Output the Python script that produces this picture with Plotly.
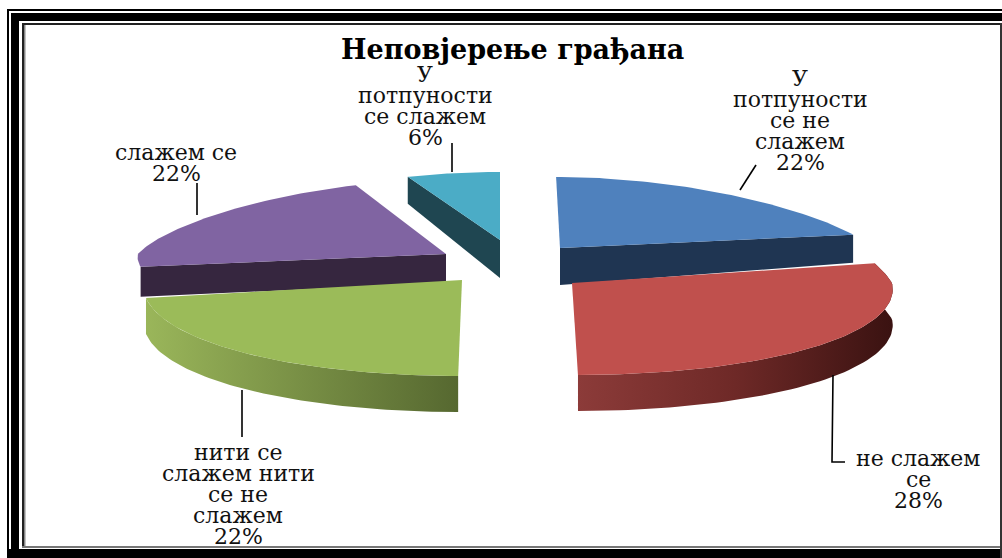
import math
import plotly.graph_objects as go

TITLE = "Неповјерење грађана"
categories = ["У потпуности се не слажем", "не слажем се",
              "нити се слажем нити се не слажем", "слажем се", "У потпуности се слажем"]
values = [22, 28, 22, 22, 6]
value_labels = ["22%", "28%", "22%", "22%", "6%"]
label_lines = [["У", "потпуности", "се не", "слажем"], ["не слажем", "се"],
               ["нити се", "слажем нити", "се не", "слажем"], ["слажем се"],
               ["У", "потпуности", "се слажем"]]

top_colors = ["#4F81BD", "#C0504D", "#9BBB59", "#8064A2", "#4BACC6"]
face_colors = ["#1F3552", None, None, "#36263F", "#1F4651"]
face_side = ["end", None, None, "start", "start"]
rim_scales = [None, [[0, "#8C3B39"], [0.5, "#6E2927"], [1, "#3A1211"]],
              [[0, "#9AB65A"], [1, "#566830"]], None, None]

# geometry of the exploded, tilted pie (one entry per slice)
apex_x = [560, 572, 462, 446, 500]
apex_y = [248, 283, 280, 254, 240]
radius = [312, 320, 318, 308, 315]
skew = [-0.055, 0.065, -0.04, 0.0, 0.0]   # horizontal lean per pixel of height
back_b = [71, 105, 72, 74, 68]
front_b = [94, 92, 96, 68, 94]
inner_depth = [37, 36, 37, 29, 38]
outer_depth = [28, 36, 36, 30, 27]
draw_order = [4, 3, 0, 2, 1]
PERSP = 0.22

label_x = [800, 918, 238, 176, 425]
label_y = [120, 479, 494, 163, 106]
LINE_H = 21
leaders = [([740, 756], [190, 165]), ([833, 832, 845], [375, 462, 462]),
           ([242, 242], [390, 437]), ([197, 197], [183, 215]), ([452, 452], [143, 172])]

FONT = "DejaVu Serif"
FS = 22


def project(i, t):
    s, c = math.sin(t), math.cos(t)
    y = -(back_b[i] if c > 0 else front_b[i]) * c
    width = 1 - PERSP * c if c > 0 else 1 - 0.05 * c
    x = radius[i] * s * width + skew[i] * abs(y)
    return apex_x[i] + x, apex_y[i] + y


def arc(i, a, b, n=70):
    return [project(i, a + (b - a) * k / n) for k in range(n + 1)]


fig = go.Figure()
total = sum(values)
edges = [0]
for v in values:
    edges.append(edges[-1] + v / total * 2 * math.pi)

for i in draw_order:
    a, b = edges[i], edges[i + 1]
    pts = arc(i, a, b)
    ax, ay = apex_x[i], apex_y[i]
    if rim_scales[i]:
        rim = arc(i, a, b)
        lower = [(x, y + outer_depth[i]) for x, y in reversed(rim)]
        poly = rim + lower + rim[:1]
        fig.add_trace(go.Scatter(
            x=[p[0] for p in poly], y=[p[1] for p in poly], mode="lines",
            line=dict(width=0), fill="toself", hoverinfo="skip", showlegend=False,
            fillgradient=dict(type="horizontal", colorscale=rim_scales[i])))
    if face_colors[i]:
        px, py = project(i, b if face_side[i] == "end" else a)
        face = [(ax, ay), (px, py), (px, py + outer_depth[i]), (ax, ay + inner_depth[i]), (ax, ay)]
        fig.add_trace(go.Scatter(
            x=[p[0] for p in face], y=[p[1] for p in face], mode="lines",
            line=dict(width=0), fill="toself", fillcolor=face_colors[i],
            hoverinfo="skip", showlegend=False))
    top = [(ax, ay)] + pts + [(ax, ay)]
    fig.add_trace(go.Scatter(
        x=[p[0] for p in top], y=[p[1] for p in top], mode="lines",
        line=dict(width=0), fill="toself", fillcolor=top_colors[i],
        name=categories[i], hoverinfo="name", showlegend=False))

for lx, ly in leaders:
    fig.add_trace(go.Scatter(x=lx, y=ly, mode="lines", line=dict(color="#000000", width=1.6),
                             hoverinfo="skip", showlegend=False))

annotations = [dict(x=512, y=50, text=f"<b>{TITLE}</b>", showarrow=False, xref="x", yref="y",
                    font=dict(family=FONT, size=27, color="#000000"))]
for i, lines in enumerate(label_lines):
    all_lines = lines + [value_labels[i]]
    y0 = label_y[i] - (len(all_lines) - 1) * LINE_H / 2
    for k, text in enumerate(all_lines):
        annotations.append(dict(x=label_x[i], y=y0 + k * LINE_H, text=text, showarrow=False,
                                xref="x", yref="y",
                                font=dict(family=FONT, size=FS, color="#111111")))

# picture frame: (x0, y0, x1, y1, colour)
frame_bars = [
    (7, 9, 1002, 11, "#000000"), (7, 9, 9, 558, "#000000"),
    (11, 13, 1002, 21, "#000000"), (11, 13, 19, 558, "#000000"),
    (22, 23, 1002, 25, "#222222"), (22, 23, 24, 547, "#222222"), (24, 25, 25.5, 547, "#888888"),
    (22, 546, 1002, 548, "#777777"), (7, 549, 1002, 558, "#000000"),
    (1000, 23, 1002, 558, "#333333"),
]
shapes = [dict(type="rect", xref="x", yref="y", x0=x0, y0=y0, x1=x1, y1=y1,
               fillcolor=c, line=dict(width=0), layer="above")
          for x0, y0, x1, y1, c in frame_bars]

fig.update_layout(
    width=1002, height=558, margin=dict(l=0, r=0, t=0, b=0),
    paper_bgcolor="#FFFFFF", plot_bgcolor="#FFFFFF", showlegend=False,
    xaxis=dict(range=[0, 1002], visible=False, fixedrange=True),
    yaxis=dict(range=[558, 0], visible=False, fixedrange=True),
    annotations=annotations, shapes=shapes)
fig.write_html("out.html", config={"displayModeBar": False},
               post_script="document.body.style.margin='0';document.body.style.overflow='hidden';")
